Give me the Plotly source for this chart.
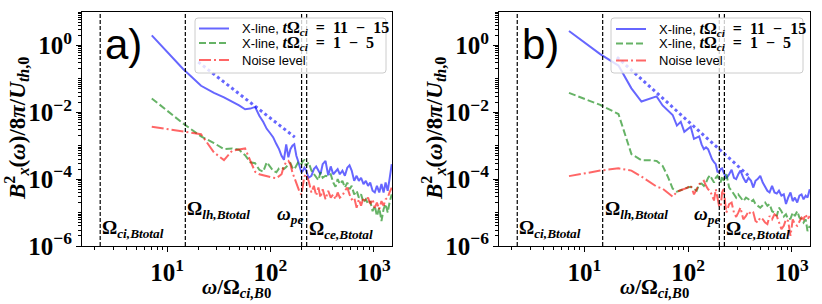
import math
import plotly.graph_objects as go

# ---------------- data ----------------
freq = [7.1, 14.2, 21.3, 28.4, 35.5, 42.6, 49.7, 56.8, 63.9, 71,
        78, 85, 92, 99, 106, 114, 121, 128, 135, 142,
        149, 156, 163, 170, 178, 185, 192, 199, 206, 213,
        220, 234, 249, 263, 277, 291, 305, 320, 341, 362,
        383, 405, 426, 447, 469, 497, 525, 554, 582, 611,
        646, 682, 717, 753, 795, 838, 880, 923, 973, 1022,
        1072, 1129, 1186, 1243, 1300, 1363, 1420, 1491]

# panel a)
xline_late_a = [2.0, 0.20, 0.062, 0.038, 0.028, 0.021, 0.016, 0.0123, 0.0129, 0.0145,
                7.9e-3, 5.2e-3, 3.2e-3, 2.4e-3, 1.8e-3, 1.12e-3, 7.9e-4, 5.0e-4, 3.8e-4, 1.1e-3,
                4.5e-4, 7.9e-4, 1.0e-3, 1.1e-3, 5.0e-4, 3.5e-4, 2.2e-4, 1.6e-4, 1.8e-4, 2.2e-4,
                1.9e-4, 1.1e-4, 1.26e-4, 2.0e-4, 2.4e-4, 1.8e-4, 1.4e-4, 2.8e-4, 3.5e-4, 1.3e-4,
                2.4e-4, 1.4e-4, 1.66e-4, 2.0e-4, 1.4e-4, 1.8e-4, 1.26e-4, 2.2e-4, 2.6e-4, 1.8e-4,
                8.9e-5, 1.26e-4, 8.9e-5, 1.1e-4, 7.1e-5, 8.9e-5, 6.3e-5, 7.9e-5, 4.5e-5, 4.0e-5,
                6.3e-5, 4.0e-5, 7.1e-5, 4.0e-5, 7.9e-5, 4.5e-5, 1.0e-4, 2.8e-4]
xline_early_a = [0.026, 4.7e-3, 1.9e-3, 1.2e-3, 7.9e-4, 8.3e-4, 7.6e-4, 5.2e-4, 3.2e-4, 3.0e-4,
                 1.9e-4, 1.66e-4, 3.2e-4, 2.4e-4, 1.8e-4, 1.6e-4, 2.1e-4, 2.2e-4, 2.0e-4, 2.3e-4,
                 2.8e-4, 3.0e-4, 2.2e-4, 1.95e-4, 2.5e-4, 3.2e-4, 3.3e-4, 2.8e-4, 3.5e-4, 3.7e-4,
                 2.5e-4, 3.2e-4, 1.8e-4, 1.4e-4, 1.1e-4, 9.3e-5, 1.6e-4, 1.1e-4, 1.26e-4, 1.2e-4,
                 1.4e-4, 7.9e-5, 5.9e-5, 1.0e-4, 7.1e-5, 8.9e-5, 5.6e-5, 7.9e-5, 5.0e-5, 6.3e-5,
                 3.5e-5, 4.5e-5, 2.8e-5, 3.5e-5, 2.0e-5, 2.5e-5, 1.8e-5, 2.2e-5, 1.1e-5, 1.6e-5,
                 7.9e-6, 1.4e-5, 5.6e-6, 1.26e-5, 1.8e-5, 1.0e-5, 2.0e-5, 3.5e-5]
noise_a = [3.7e-3, 2.6e-3, 2.2e-3, 6.3e-4, 3.7e-4, 7.1e-4, 7.9e-4, 8.3e-4, 3.5e-4, 1.66e-4,
           1.4e-4, 1.3e-4, 1.2e-4, 1.17e-4, 1.1e-4, 1.07e-4, 1.26e-4, 1.4e-4, 2.5e-4, 3.2e-4,
           3.5e-4, 2.8e-4, 1.6e-4, 1.1e-4, 7.9e-5, 5.6e-5, 4.0e-5, 3.4e-5, 7.1e-5, 1.2e-4,
           1.4e-4, 8.9e-5, 4.0e-5, 6.3e-5, 3.2e-5, 5.6e-5, 2.8e-5, 5.0e-5, 2.5e-5, 4.5e-5,
           2.8e-5, 3.5e-5, 2.5e-5, 4.0e-5, 2.8e-5, 3.2e-5, 4.5e-5, 5.6e-5, 3.5e-5, 2.5e-5,
           2.8e-5, 1.4e-5, 2.5e-5, 1.6e-5, 2.8e-5, 2.2e-5, 2.8e-5, 1.8e-5, 2.5e-5, 1.4e-5,
           2.0e-5, 1.26e-5, 2.2e-5, 1.6e-5, 2.5e-5, 2.8e-5, 4.0e-5, 5.6e-5]
fit_x_a = [20, 172]
fit_y_a = [0.32, 1.8e-3]

# panel b)
xline_late_b = [2.7, 0.55, 0.25, 0.052, 0.021, 0.025, 0.030, 0.016, 0.011, 8.3e-3,
                4.0e-3, 5.2e-3, 2.6e-3, 3.2e-3, 3.7e-3, 1.6e-3, 1.8e-3, 1.9e-3, 1.1e-3, 7.9e-4,
                8.9e-4, 7.9e-4, 5.6e-4, 4.0e-4, 3.2e-4, 2.8e-4, 1.66e-4, 1.6e-4, 2.0e-4, 2.1e-4,
                1.6e-4, 1.05e-4, 1.4e-4, 1.9e-4, 1.1e-4, 1.0e-4, 1.4e-4, 1.8e-4, 1.1e-4, 7.9e-5,
                1.1e-4, 8.9e-5, 5.6e-5, 8.9e-5, 1.0e-4, 1.26e-4, 7.9e-5, 5.6e-5, 4.5e-5, 4.0e-5,
                6.3e-5, 4.0e-5, 3.7e-5, 4.5e-5, 3.2e-5, 3.5e-5, 1.8e-5, 2.8e-5, 4.0e-5, 2.2e-5,
                2.8e-5, 2.0e-5, 3.2e-5, 3.5e-5, 2.5e-5, 3.2e-5, 2.8e-5, 5.0e-5]
xline_early_b = [0.038, 0.0166, 8.9e-3, 5.6e-4, 3.7e-4, 3.7e-4, 3.5e-4, 2.5e-4, 1.17e-4, 5.2e-5,
                 4.2e-5, 4.7e-5, 5.2e-5, 5.6e-5, 5.9e-5, 5.0e-5, 4.5e-5, 7.1e-5, 7.4e-5, 6.3e-5,
                 7.9e-5, 1.1e-4, 1.3e-4, 1.0e-4, 7.9e-5, 1.1e-4, 1.26e-4, 1.0e-4, 7.9e-5, 1.26e-4,
                 8.9e-5, 1.4e-4, 5.6e-5, 4.5e-5, 3.5e-5, 2.8e-5, 3.5e-5, 2.8e-5, 2.2e-5, 2.8e-5,
                 2.5e-5, 2.1e-5, 2.4e-5, 1.8e-5, 1.6e-5, 1.4e-5, 1.66e-5, 2.0e-5, 1.6e-5, 1.8e-5,
                 1.1e-5, 1.0e-5, 7.9e-6, 1.4e-5, 1.1e-5, 7.6e-6, 8.9e-6, 6.3e-6, 6.6e-6, 1.0e-5,
                 7.9e-6, 1.1e-5, 7.1e-6, 6.3e-6, 5.0e-6, 6.3e-6, 2.8e-6, 4.0e-6]
noise_b = [1.23e-4, 1.8e-4, 2.1e-4, 1.8e-4, 1.2e-4, 8.3e-5, 6.0e-5, 5.2e-5, 4.0e-5, 3.0e-5,
           4.2e-5, 4.7e-5, 5.0e-5, 5.6e-5, 6.6e-5, 3.5e-5, 5.0e-5, 7.1e-5, 7.9e-5, 8.9e-5,
           6.3e-5, 5.0e-5, 4.5e-5, 3.2e-5, 2.3e-5, 5.0e-5, 2.8e-5, 1.6e-5, 1.5e-5, 4.0e-5,
           5.0e-5, 1.0e-5, 1.8e-5, 2.0e-5, 1.0e-5, 7.4e-6, 1.0e-5, 1.4e-5, 6.3e-6, 7.9e-6,
           1.1e-5, 8.9e-6, 1.0e-5, 5.6e-6, 5.0e-6, 7.1e-6, 6.3e-6, 5.0e-6, 4.5e-6, 7.9e-6,
           6.3e-6, 8.9e-6, 7.9e-6, 5.0e-6, 3.2e-6, 4.0e-6, 6.3e-6, 5.6e-6, 2.0e-6, 6.3e-6,
           4.5e-6, 4.0e-6, 5.6e-6, 7.1e-6, 6.3e-6, 8.9e-6, 6.3e-6, 7.9e-6]
fit_x_b = [20.6, 380]
fit_y_b = [0.45, 1.3e-4]

# characteristic frequencies (omega / Omega_ci,B0)
char_freqs = [2.25, 15.0, 200.0, 224.0]
char_labels = ["<b>Ω<sub><i>ci,Btotal</i></sub></b>",
               "<b>Ω<sub><i>lh,Btotal</i></sub></b>",
               "<b><i>ω</i><sub><i>pe</i></sub></b>",
               "<b>Ω<sub><i>ce,Btotal</i></sub></b>"]

SP = "\u2002"
MATH = "<span style=\"font-family:'Liberation Serif';font-size:16px\"><b>{}</b></span>"
legend_names = [
    "X-line, " + MATH.format("<i>t</i>Ω<sub><i>ci</i></sub>" + SP + "=" + SP + "11" + SP + "−" + SP + "15"),
    "X-line, " + MATH.format("<i>t</i>Ω<sub><i>ci</i></sub>" + SP + "=" + SP + "1" + SP + "−" + SP + "5"),
    "Noise level",
]
panel_labels = ["a)", "b)"]

x_range = [1.5, 1500]
y_range = [1e-6, 10]
tick_alias = {"1": "10<sup>0</sup>", "10": "10<sup>1</sup>", "100": "10<sup>2</sup>",
              "1000": "10<sup>3</sup>", "0.01": "10<sup>−2</sup>"}

# ---------------- styling ----------------
BLUE = "rgba(0,0,255,0.6)"
GREEN = "rgba(0,128,0,0.6)"
RED = "rgba(255,0,0,0.6)"
SERIF = "Liberation Serif"
W, H = 822, 304
STYLES = [dict(color=BLUE, width=2),
          dict(color=GREEN, width=2, dash="7px,3px"),
          dict(color=RED, width=2, dash="12px,3px,2px,3px")]

fig = go.Figure()

panels = [
    dict(xa="x", ya="y", series=[xline_late_a, xline_early_a, noise_a], fx=fit_x_a, fy=fit_y_a,
         leg_box=(195, 18, 386, 73), leg_line=(199, 229), leg_text=240, leg_rows=(28.5, 43, 60)),
    dict(xa="x2", ya="y2", series=[xline_late_b, xline_early_b, noise_b], fx=fit_x_b, fy=fit_y_b,
         leg_box=(611, 18, 803, 73), leg_line=(616, 646), leg_text=657, leg_rows=(29, 43.5, 60.5)),
]

for p in panels:
    for vals, name, st in zip(p["series"], legend_names, STYLES):
        fig.add_trace(go.Scatter(x=freq, y=vals, mode="lines", name=name, line=st,
                                 xaxis=p["xa"], yaxis=p["ya"], showlegend=False))
    fig.add_trace(go.Scatter(x=p["fx"], y=p["fy"], mode="lines", showlegend=False,
                             line=dict(color=BLUE, width=3, dash="3px,3px"),
                             xaxis=p["xa"], yaxis=p["ya"]))
    for f in char_freqs:
        fig.add_trace(go.Scatter(x=[f, f], y=y_range, mode="lines", showlegend=False,
                                 line=dict(color="black", width=1.2, dash="4px,2px"),
                                 xaxis=p["xa"], yaxis=p["ya"], hoverinfo="skip"))

axis_common = dict(type="log", showline=True, mirror=True, linecolor="black", linewidth=1.2,
                   ticks="outside", ticklen=5, tickwidth=1, tickcolor="black",
                   showgrid=False, zeroline=False, exponentformat="power",
                   automargin=False, labelalias=tick_alias,
                   tickfont=dict(family=SERIF, size=20, color="black", weight="bold"),
                   minor=dict(ticks="outside", ticklen=2.5, tickcolor="black", dtick="D1",
                              showgrid=False))

xdoms = [[82 / W, 392 / W], [499 / W, 810 / W]]
ydom = [1 - 246 / H, 1 - 12 / H]

fig.update_layout(
    xaxis=dict(axis_common, domain=xdoms[0], range=[math.log10(v) for v in x_range],
               dtick=1, anchor="y"),
    yaxis=dict(axis_common, domain=ydom, range=[math.log10(v) for v in y_range],
               dtick=2, anchor="x"),
    xaxis2=dict(axis_common, domain=xdoms[1], range=[math.log10(v) for v in x_range],
                dtick=1, anchor="y2"),
    yaxis2=dict(axis_common, domain=ydom, range=[math.log10(v) for v in y_range],
                dtick=2, anchor="x2"),
    width=W, height=H, margin=dict(l=0, r=0, t=0, b=0, autoexpand=False),
    paper_bgcolor="white", plot_bgcolor="white", showlegend=False,
)

# ---- legend boxes (drawn in paper coordinates) ----
shapes = []
annotations = []


def px(x):
    return x / W


def py(y):
    return 1 - y / H


for p in panels:
    x0, y0, x1, y1 = p["leg_box"]
    r = 3
    path = (f"M {px(x0 + r)},{py(y0)} L {px(x1 - r)},{py(y0)} Q {px(x1)},{py(y0)} {px(x1)},{py(y0 + r)} "
            f"L {px(x1)},{py(y1 - r)} Q {px(x1)},{py(y1)} {px(x1 - r)},{py(y1)} "
            f"L {px(x0 + r)},{py(y1)} Q {px(x0)},{py(y1)} {px(x0)},{py(y1 - r)} "
            f"L {px(x0)},{py(y0 + r)} Q {px(x0)},{py(y0)} {px(x0 + r)},{py(y0)} Z")
    shapes.append(dict(type="path", path=path, xref="paper", yref="paper", layer="above",
                       fillcolor="rgba(255,255,255,0.8)", line=dict(color="#cccccc", width=1)))
    lx0, lx1 = p["leg_line"]
    for row_y, name, st in zip(p["leg_rows"], legend_names, STYLES):
        shapes.append(dict(type="line", xref="paper", yref="paper", layer="above",
                           x0=px(lx0), x1=px(lx1), y0=py(row_y), y1=py(row_y), line=st))
        annotations.append(dict(x=px(p["leg_text"]), y=py(row_y), xref="paper", yref="paper",
                                text=name, showarrow=False, xanchor="left", yanchor="middle",
                                font=dict(family="Liberation Sans", size=13, color="black")))

label_font = dict(family=SERIF, size=19, color="black")
label_pos = [  # (xanchor, log10 y) for each characteristic label
    ("left", -5.5), ("left", -4.92), ("right", -5.07), ("left", -5.52)]
for p_i, (xa, ya) in enumerate([("x", "y"), ("x2", "y2")]):
    for f, lab, (anc, ly) in zip(char_freqs, char_labels, label_pos):
        xpos = math.log10(f) + (0.03 if anc == "right" else 0.0)
        annotations.append(dict(x=xpos, y=ly, xref=xa, yref=ya, text=lab, showarrow=False,
                                xanchor=anc, yanchor="middle", font=label_font))
    annotations.append(dict(x=0.068, y=0.863, xref=f"{xa} domain", yref=f"{ya} domain",
                            text=panel_labels[p_i], showarrow=False, xanchor="left",
                            yanchor="middle",
                            font=dict(family="Liberation Sans", size=42, color="black")))
    # axis titles
    xc = (xdoms[p_i][0] + xdoms[p_i][1]) / 2
    annotations.append(dict(x=xc, y=py(288), xref="paper", yref="paper",
                            text="<b><i>ω</i>/Ω<sub><i>ci,B</i>0</sub></b>", showarrow=False,
                            xanchor="center", yanchor="middle",
                            font=dict(family=SERIF, size=21, color="black")))
    ytx = px(16) if p_i == 0 else px(16 + 417)
    annotations.append(dict(x=ytx, y=(ydom[0] + ydom[1]) / 2, xref="paper", yref="paper",
                            text="<b><i>B</i><sup>2</sup><sub><i>x</i></sub>(<i>ω</i>)/8<i>π</i>/<i>U</i><sub><i>th</i>,0</sub></b>",
                            textangle=-90, showarrow=False, xanchor="center", yanchor="middle",
                            font=dict(family=SERIF, size=23, color="black")))

fig.update_layout(shapes=shapes, annotations=annotations)

# remove the default page margin so the figure sits at the window's top-left corner
fig.write_html("out.html", config={"displayModeBar": False},
               post_script="document.body.style.margin='0px';document.body.style.overflow='hidden';")
